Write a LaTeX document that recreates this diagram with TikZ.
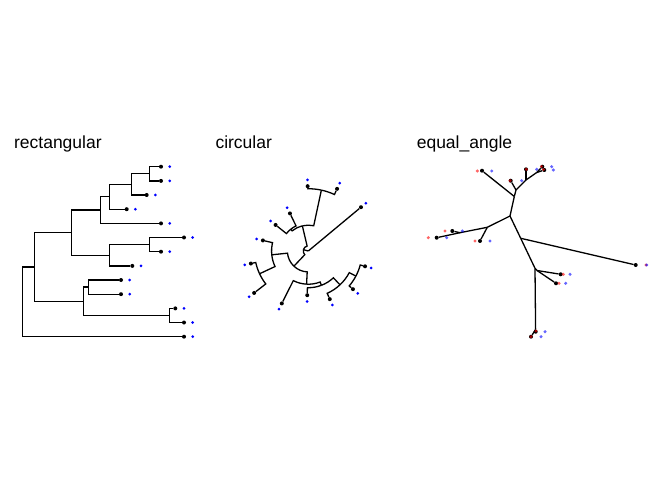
\documentclass[tikz,border=0pt]{standalone}
\usepackage{fontspec}
\setmainfont{Liberation Sans}
\begin{document}
\begin{tikzpicture}[x=1bp,y=-1bp,
  edge/.style={line width=1.3bp, black},
  tipdot/.style={circle, fill=black, inner sep=0pt, minimum size=4bp},
  bluedot/.style={circle, fill=blue, inner sep=0pt, minimum size=3bp},
  ablue/.style={circle, fill=blue, fill opacity=0.6, inner sep=0pt, minimum size=3.4bp},
  ared/.style={circle, fill=red, fill opacity=0.6, inner sep=0pt, minimum size=3.4bp},
  title/.style={anchor=base west, inner sep=0pt, font=\fontsize{17.5bp}{20bp}\selectfont}]
\useasboundingbox[fill=white] (0,0) rectangle (672,480);

% titles
\node[title] (t1) at (13.9,148.5) {rectangular};
\node[title] (t2) at (215.3,148.5) {circular};
\node[title] (t3) at (416.6,148.5) {equal\_angle};

% ---------------- rectangular ----------------
\coordinate (rR) at (22.5,301.8);
\coordinate (rA) at (34.5,267.0);
\coordinate (rB) at (71.5,232.7);
\coordinate (rD) at (100.5,210.1);
\coordinate (rF) at (109.5,196.8);
\coordinate (rG) at (131.5,184.4);
\coordinate (rH) at (149.5,173.8);
\coordinate (rE) at (109.5,255.2);
\coordinate (rI) at (149.5,244.6);
\coordinate (rC) at (83.5,301.3);
\coordinate (rJ) at (88.5,287.1);
\coordinate (rK) at (169.5,315.4);
\node[tipdot] (r1) at (161,166.7) {};
\node[tipdot] (r2) at (161,180.9) {};
\node[tipdot] (r3) at (146.7,195.0) {};
\node[tipdot] (r4) at (126.7,209.2) {};
\node[tipdot] (r5) at (161,223.4) {};
\node[tipdot] (r6) at (184,237.5) {};
\node[tipdot] (r7) at (161,251.7) {};
\node[tipdot] (r8) at (132.3,265.9) {};
\node[tipdot] (r9) at (121,280.0) {};
\node[tipdot] (r10) at (121,294.2) {};
\node[tipdot] (r11) at (175.3,308.4) {};
\node[tipdot] (r12) at (184,322.5) {};
\node[tipdot] (r13) at (184,336.7) {};
\draw[edge] (rR) |- (rA); \draw[edge] (rR) |- (r13);
\draw[edge] (rA) |- (rB); \draw[edge] (rA) |- (rC);
\draw[edge] (rB) |- (rD); \draw[edge] (rB) |- (rE);
\draw[edge] (rD) |- (rF); \draw[edge] (rD) |- (r5);
\draw[edge] (rF) |- (rG); \draw[edge] (rF) |- (r4);
\draw[edge] (rG) |- (rH); \draw[edge] (rG) |- (r3);
\draw[edge] (rH) |- (r1); \draw[edge] (rH) |- (r2);
\draw[edge] (rE) |- (rI); \draw[edge] (rE) |- (r8);
\draw[edge] (rI) |- (r6); \draw[edge] (rI) |- (r7);
\draw[edge] (rC) |- (rJ); \draw[edge] (rC) |- (rK);
\draw[edge] (rJ) |- (r9); \draw[edge] (rJ) |- (r10);
\draw[edge] (rK) |- (r11); \draw[edge] (rK) |- (r12);
\foreach \n/\x/\y in {1/161/166.7,2/161/180.9,3/146.7/195.0,4/126.7/209.2,5/161/223.4,6/184/237.5,7/161/251.7,8/132.3/265.9,9/121/280.0,10/121/294.2,11/175.3/308.4,12/184/322.5,13/184/336.7}
  \node[bluedot] (rb\n) at (\x+8.7,\y) {};

% ---------------- circular ----------------
\begin{scope}[shift={(308.3,251)}, x=0.4236bp, y=0.4236bp]
\coordinate (cR) at (0,0);
\coordinate (cA) at (164.91:12);
\coordinate (cB) at (226.49:49.4);
\coordinate (cD) at (267.02:78.4);
\coordinate (cF) at (290.86:86.7);
\coordinate (cG) at (313.11:109.4);
\coordinate (cH) at (332.19:127);
\coordinate (cE) at (185.96:86.7);
\coordinate (cI) at (205.04:127);
\coordinate (cC) at (103.32:61);
\coordinate (cJ) at (128.75:66);
\coordinate (cK) at (77.89:147);
\foreach \n/\a/\d in {1/344.9/138.7,2/319.47/138.7,3/294.04/124.4,4/268.61/104.4,5/243.18/138.7,6/217.75/161.7,7/192.32/138.7,8/166.89/110,9/141.46/98.7,10/116.03/98.7,11/90.6/153,12/65.17/161.7,13/39.74/161.7}
  \node[tipdot] (c\n) at (\a:\d) {};
\draw[edge] (cR) -- (cA);
\draw[edge] (cR) -- (c13);
\draw[edge] (cA) arc[start angle=164.91, end angle=226.49, radius=12] -- (cB);
\draw[edge] (cA) arc[start angle=164.91, end angle=103.32, radius=12] -- (cC);
\draw[edge] (cB) arc[start angle=226.49, end angle=267.02, radius=49.4] -- (cD);
\draw[edge] (cB) arc[start angle=226.49, end angle=185.96, radius=49.4] -- (cE);
\draw[edge] (cD) arc[start angle=267.02, end angle=290.86, radius=78.4] -- (cF);
\draw[edge] (cD) arc[start angle=267.02, end angle=243.18, radius=78.4] -- (c5);
\draw[edge] (cF) arc[start angle=290.86, end angle=313.11, radius=86.7] -- (cG);
\draw[edge] (cF) arc[start angle=290.86, end angle=268.61, radius=86.7] -- (c4);
\draw[edge] (cG) arc[start angle=313.11, end angle=332.19, radius=109.4] -- (cH);
\draw[edge] (cG) arc[start angle=313.11, end angle=294.04, radius=109.4] -- (c3);
\draw[edge] (cH) arc[start angle=332.19, end angle=344.9, radius=127] -- (c1);
\draw[edge] (cH) arc[start angle=332.19, end angle=319.47, radius=127] -- (c2);
\draw[edge] (cE) arc[start angle=185.96, end angle=205.04, radius=86.7] -- (cI);
\draw[edge] (cE) arc[start angle=185.96, end angle=166.89, radius=86.7] -- (c8);
\draw[edge] (cI) arc[start angle=205.04, end angle=217.75, radius=127] -- (c6);
\draw[edge] (cI) arc[start angle=205.04, end angle=192.32, radius=127] -- (c7);
\draw[edge] (cC) arc[start angle=103.32, end angle=128.75, radius=61] -- (cJ);
\draw[edge] (cC) arc[start angle=103.32, end angle=77.89, radius=61] -- (cK);
\draw[edge] (cJ) arc[start angle=128.75, end angle=141.46, radius=66] -- (c9);
\draw[edge] (cJ) arc[start angle=128.75, end angle=116.03, radius=66] -- (c10);
\draw[edge] (cK) arc[start angle=77.89, end angle=90.6, radius=147] -- (c11);
\draw[edge] (cK) arc[start angle=77.89, end angle=65.17, radius=147] -- (c12);
\foreach \n/\a/\d in {1/344.9/138.7,2/319.47/138.7,3/294.04/124.4,4/268.61/104.4,5/243.18/138.7,6/217.75/161.7,7/192.32/138.7,8/166.89/110,9/141.46/98.7,10/116.03/98.7,11/90.6/153,12/65.17/161.7,13/39.74/161.7}
  \node[bluedot] (cb\n) at (\a:\d+15) {};
\end{scope}

% ---------------- equal angle ----------------
\coordinate (eR) at (529,240.2);
\coordinate (eA) at (520.7,238.3);
\coordinate (eB) at (510,216);
\coordinate (eD) at (514.3,196.5);
\coordinate (eF) at (516,190);
\coordinate (eG) at (526,180);
\coordinate (eH) at (536.7,172.5);
\coordinate (eE) at (487.3,227.3);
\coordinate (eI) at (460,232.7);
\coordinate (eC) at (535,268.3);
\coordinate (eJ) at (537,270.5);
\coordinate (eK) at (535.6,329.5);
\node[tipdot] (e1) at (542.3,166.7) {};
\node[tipdot] (e2) at (544.3,170) {};
\node[tipdot] (e3) at (526,169.3) {};
\node[tipdot] (e4) at (510.7,180.7) {};
\node[tipdot] (e5) at (482,170.7) {};
\node[tipdot] (e6) at (436.7,237.7) {};
\node[tipdot] (e7) at (452.3,231) {};
\node[tipdot] (e8) at (480,241) {};
\node[tipdot] (e9) at (560.7,274.3) {};
\node[tipdot] (e10) at (556,283.3) {};
\node[tipdot] (e11) at (535.7,331.7) {};
\node[tipdot] (e12) at (531,336.7) {};
\node[tipdot] (e13) at (635.7,265) {};
\draw[edge] (eR) -- (eA); \draw[edge] (eR) -- (e13);
\draw[edge] (eA) -- (eB); \draw[edge] (eA) -- (eC);
\draw[edge] (eB) -- (eD); \draw[edge] (eB) -- (eE);
\draw[edge] (eD) -- (eF); \draw[edge] (eD) -- (e5);
\draw[edge] (eF) -- (eG); \draw[edge] (eF) -- (e4);
\draw[edge] (eG) -- (eH); \draw[edge] (eG) -- (e3);
\draw[edge] (eH) -- (e1); \draw[edge] (eH) -- (e2);
\draw[edge] (eE) -- (eI); \draw[edge] (eE) -- (e8);
\draw[edge] (eI) -- (e6); \draw[edge] (eI) -- (e7);
\draw[edge] (eC) -- (eJ); \draw[edge] (eC) -- (eK);
\draw[edge] (eJ) -- (e9); \draw[edge] (eJ) -- (e10);
\draw[edge] (eK) -- (e11); \draw[edge] (eK) -- (e12);
\foreach \n/\x/\y in {1/541.5/166.5,2/543.5/169.5,3/526.3/169.3,4/510/180.7,5/477.3/171,6/428.3/237.7,7/445/231,8/475/241,9/563.3/274.3,10/559/283.3,11/536/331,12/531/336.7,13/646/265}
  \node[ared] (er\n) at (\x,\y) {};
\foreach \n/\x/\y in {1/551.7/166.7,2/553.3/170,3/536.7/169.3,4/521.7/180.7,5/491.7/171,6/446.7/237.7,7/462.3/231,8/490/241,9/570/274.3,10/565.7/283.3,11/545/331.7,12/541/336.7,13/646.7/265}
  \node[ablue] (eb\n) at (\x,\y) {};
\end{tikzpicture}
\end{document}
